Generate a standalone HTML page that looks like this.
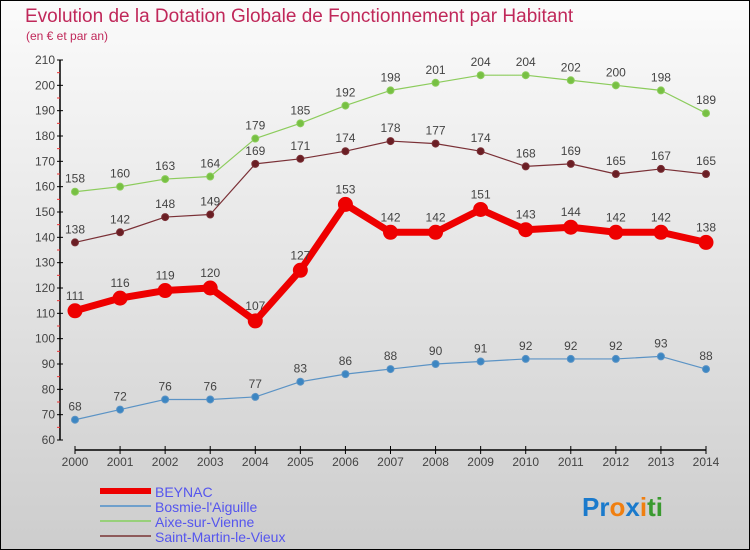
<!DOCTYPE html>
<html><head><meta charset="utf-8"><style>
body{margin:0}
#c{width:750px;height:550px;position:relative;overflow:hidden;box-sizing:border-box;border:1px solid #000;background:linear-gradient(#fbfbfb,#cdcdcd);font-family:"Liberation Sans",sans-serif}
</style></head><body>
<div id="c">
<svg id="s" width="750" height="550" style="position:absolute;left:-1px;top:-1px">
<text x="25" y="22" font-size="19" fill="#c0285a">Evolution de la Dotation Globale de Fonctionnement par Habitant</text>
<text x="26" y="40" font-size="12" fill="#c0285a">(en € et par an)</text>
</svg>
</div>
<script>
const years=[2000,2001,2002,2003,2004,2005,2006,2007,2008,2009,2010,2011,2012,2013,2014];
const beynac=[111,116,119,120,107,127,153,142,142,151,143,144,142,142,138];
const bosmie=[68,72,76,76,77,83,86,88,90,91,92,92,92,93,88];
const aixe=[158,160,163,164,179,185,192,198,201,204,204,202,200,198,189];
const saintMartin=[138,142,148,149,169,171,174,178,177,174,168,169,165,167,165];
const yTicks=[60,70,80,90,100,110,120,130,140,150,160,170,180,190,200,210];
const NS="http://www.w3.org/2000/svg";
const s=document.getElementById('s');
const x=i=>75+i*(706-75)/(years.length-1);
const y=v=>440-(v-60)*(380/150);
function mk(t,a,p){const e=document.createElementNS(NS,t);for(const k in a)e.setAttribute(k,a[k]);(p||s).appendChild(e);return e;}
let ya=mk('line',{x1:60,y1:60,x2:60,y2:440,stroke:'#000','stroke-width':1.5});


yTicks.forEach(v=>{
 mk('line',{x1:57,y1:y(v),x2:63,y2:y(v),stroke:'#000'});
 if(v<210) mk('line',{x1:57,y1:y(v+5),x2:60,y2:y(v+5),stroke:'#e33'});
 const t=mk('text',{x:55,y:y(v)+4,'text-anchor':'end','font-size':12,fill:'#444'});
 t.textContent=v;
 
 
});
let xa=mk('line',{x1:75,y1:450,x2:706,y2:450,stroke:'#000','stroke-width':1.5});


years.forEach((yr,i)=>{
 mk('line',{x1:x(i),y1:446,x2:x(i),y2:454,stroke:'#000'});
 const t=mk('text',{x:x(i),y:466,'text-anchor':'middle','font-size':12,fill:'#444'});
 t.textContent=yr;
 
 
});
function series(data,color,dot,w,r,name,off){
 const g=mk('g',{});
 
 
 mk('polyline',{points:data.map((v,i)=>x(i)+','+y(v)).join(' '),fill:'none',stroke:color,'stroke-width':w,'stroke-linejoin':'round'},g);
 data.forEach((v,i)=>{
  const c=mk('circle',{cx:x(i),cy:y(v),r:r,fill:dot,stroke:color,'stroke-width':1},g);
  
  
  const t=mk('text',{x:x(i),y:y(v)-off,'text-anchor':'middle','font-size':12,fill:'#444'},g);
  t.textContent=v;
  
  
 });
}
series(aixe,'#8ccc5c','#77c043',1.2,3.5,'series-aixe-sur-vienne',9);
series(saintMartin,'#7a3036','#6a1e24',1.2,3.5,'series-saint-martin-le-vieux',9);
series(bosmie,'#5b93c5','#3c86c2',1.2,3.5,'series-bosmie-l-aiguille',9);
series(beynac,'#ee0000','#ee0000',7,7,'series-beynac',11);
const leg=[['BEYNAC','#ee0000',6],['Bosmie-l\'Aiguille','#6fa0cc',2],['Aixe-sur-Vienne','#98d07a',2],['Saint-Martin-le-Vieux','#8e5a5a',2]];
leg.forEach((l,i)=>{
 const yy=491+i*15;
 const g=mk('g',{});
 
 
 mk('line',{x1:100,y1:yy,x2:151,y2:yy,stroke:l[1],'stroke-width':l[2]},g);
 const t=mk('text',{x:155,y:yy+6,'font-size':14,fill:'#5555ee'},g);
 t.textContent=l[0];
});
const lg=mk('text',{x:582,y:516,'font-size':26,'font-weight':'bold'});


[['Pr','#1a7acc'],['o','#f07f10'],['x','#1a7acc'],['i','#f07f10'],['ti','#3a9a30']].forEach(p=>{const ts=mk('tspan',{fill:p[1]},lg);ts.textContent=p[0];});
</script>
</body></html>
